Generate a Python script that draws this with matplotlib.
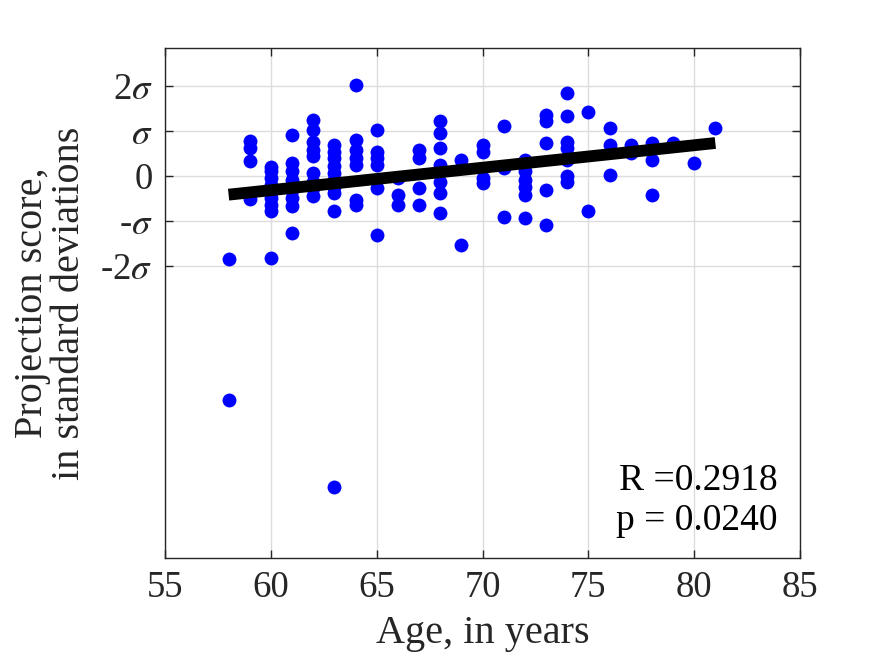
import matplotlib
matplotlib.use("Agg")
import matplotlib.pyplot as plt
import numpy as np

plt.rcParams['font.family'] = ['Liberation Serif', 'DejaVu Serif']
plt.rcParams['mathtext.fontset'] = 'stix'

# ages and projection scores (in units of sigma)
age_58 = [-1.85, -4.99]
age_59 = [0.78, 0.62, 0.33, -0.51]
age_60 = [0.2, 0.1, -0.05, -0.2, -0.35, -0.5, -0.65, -0.78, -1.83]
age_61 = [0.91, 0.28, 0.1, -0.09, -0.31, -0.49, -0.68, -1.28]
age_62 = [1.25, 1.02, 0.76, 0.58, 0.43, 0.06, -0.13, -0.27, -0.46]
age_63 = [0.69, 0.54, 0.39, 0.21, 0.06, -0.09, -0.24, -0.39, -0.79, -6.92]
age_64 = [2.03, 0.8, 0.58, 0.39, 0.24, -0.53, -0.65]
age_65 = [1.02, 0.54, 0.39, 0.24, -0.27, -1.31]
age_66 = [-0.05, -0.42, -0.65]
age_67 = [0.58, 0.39, -0.27, -0.65]
age_68 = [1.21, 0.95, 0.62, 0.24, 0.1, -0.13, -0.39, -0.83]
age_69 = [0.36, -1.54]
age_70 = [0.69, 0.54, -0.05, -0.16]
age_71 = [1.1, 0.17, -0.91]
age_72 = [0.36, 0.1, -0.09, -0.24, -0.42, -0.94]
age_73 = [1.36, 1.21, 0.73, -0.31, -1.09]
age_74 = [1.84, 1.32, 0.76, 0.62, 0.36, -0.01, -0.13]
age_75 = [1.43, -0.79]
age_76 = [1.06, 0.69, 0.02]
age_77 = [0.69, 0.51]
age_78 = [0.73, 0.36, -0.42]
age_79 = [0.73]
age_80 = [0.28]
age_81 = [1.06]

groups = {58: age_58, 59: age_59, 60: age_60, 61: age_61, 62: age_62, 63: age_63,
          64: age_64, 65: age_65, 66: age_66, 67: age_67, 68: age_68, 69: age_69,
          70: age_70, 71: age_71, 72: age_72, 73: age_73, 74: age_74, 75: age_75,
          76: age_76, 77: age_77, 78: age_78, 79: age_79, 80: age_80, 81: age_81}

fit_x = [58, 81]
fit_y = [-0.42, 0.73]

x_ticks = [55, 60, 65, 70, 75, 80, 85]
y_ticks = [-2, -1, 0, 1, 2]
y_ticklabels = [r'-2$\sigma$', r'-$\sigma$', '0', r'$\sigma$', r'2$\sigma$']

stats_text = "R =0.2918\np = 0.0240"

ages = np.concatenate([[a] * len(v) for a, v in groups.items()])
scores = np.concatenate([v for v in groups.values()])

fig = plt.figure(figsize=(8.83, 6.62), dpi=100)
ax = fig.add_axes([0.187, 0.157, 0.719, 0.7705])

ax.plot(ages, scores, 'o', color='#0000ff', markersize=10, markeredgewidth=0, zorder=3)
ax.plot(fit_x, fit_y, '-', color='black', linewidth=8.5, solid_capstyle='butt', zorder=4)

ax.set_xlim(55, 85)
ax.set_ylim(-8.51, 2.845)
ax.set_xticks(x_ticks)
ax.set_yticks(y_ticks)
ax.set_yticklabels(y_ticklabels)
ax.grid(True, color='#dcdcdc', linewidth=1.0)
ax.set_axisbelow(True)

ax.tick_params(direction='in', length=6, width=1.0, top=True, right=True,
               labelsize=26.5, pad=9, colors='#262626')
for s in ax.spines.values():
    s.set_color('#262626')
    s.set_linewidth(1.0)

ax.set_xlabel('Age, in years', fontsize=29, color='#262626', labelpad=7)
ax.set_ylabel('Projection score,\nin standard deviations', fontsize=29,
              color='#262626', linespacing=1.0, labelpad=9)

ax.text(0.965, 0.04, stats_text, transform=ax.transAxes, ha='right', va='bottom',
        fontsize=27, color='black', linespacing=1.2)

fig.savefig('out.png', dpi=100)
